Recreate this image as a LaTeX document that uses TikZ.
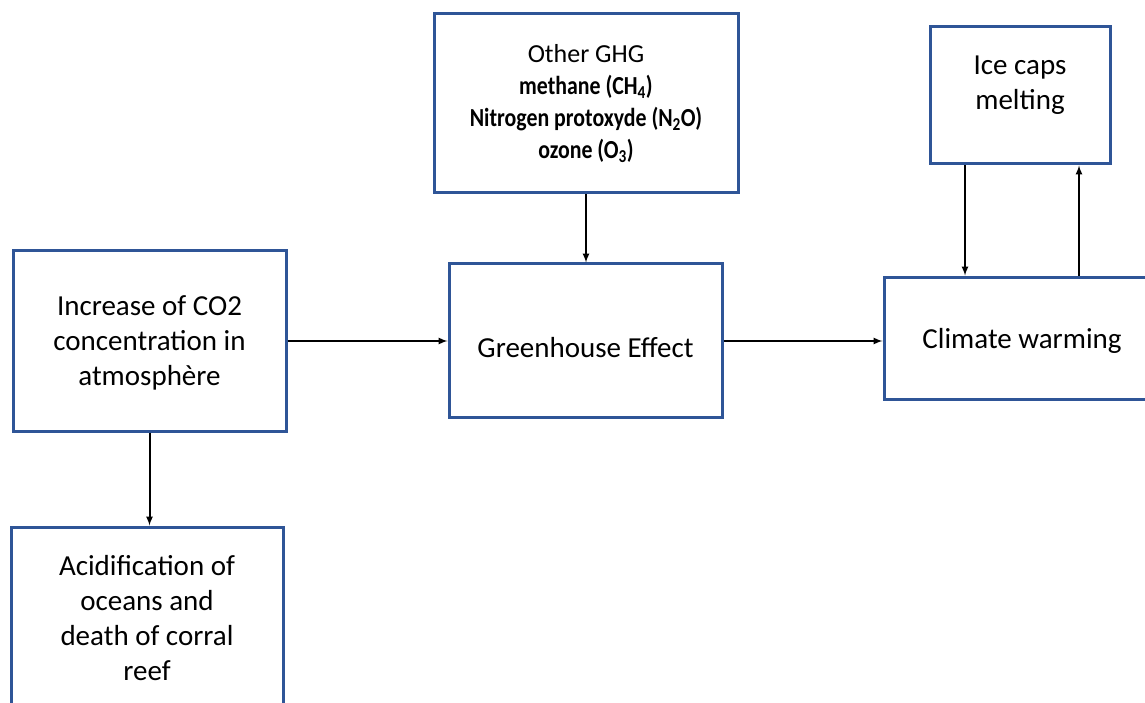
\documentclass[tikz,border=0pt]{standalone}
\usepackage{fontspec}
\setmainfont{Carlito}
\newfontfamily\gasfont[FakeStretch=0.84]{Carlito}
\usepackage{xcolor}
\usetikzlibrary{arrows}
\definecolor{boxcolor}{HTML}{2F5597}

% text lines of a box, moved up (or down) inside it
\newcommand\liftlines[2]{\raisebox{#1}[\height][\depth]{\begin{tabular}{@{}c@{}}#2\end{tabular}}}

\tikzset{
  box/.style={draw=boxcolor, line width=3pt, fill=white, align=center, inner sep=0pt,
    font=\fontsize{29}{35}\selectfont},
  gasbox/.style={box, font=\fontsize{26}{32}\selectfont},
  link/.style={black, line width=2pt, -latex}
}

\begin{document}
\begin{tikzpicture}[x=1pt,y=-1pt]
\useasboundingbox (0,0) rectangle (1145,703);
\clip (0,0) rectangle (1145,703);
% boxes
\node[gasbox, minimum width=304pt, minimum height=179pt] (ghg) at (586,103.5)
  {Other GHG\\
   {\gasfont\bfseries methane (CH\textsubscript{4})}\\
   {\gasfont\bfseries Nitrogen protoxyde (N\textsubscript{2}O)}\\
   {\gasfont\bfseries ozone (O\textsubscript{3})}};
\node[box, minimum width=180pt, minimum height=137pt] (ice) at (1020,95.5)
  {\liftlines{10pt}{Ice caps\\melting}};
\node[box, minimum width=273pt, minimum height=180pt] (co2) at (149.5,341)
  {\liftlines{-2pt}{Increase of CO2\\concentration in\\atmosphère}};
\node[box, minimum width=273pt, minimum height=153pt] (green) at (585.5,340.5)
  {\liftlines{-10pt}{Greenhouse Effect}};
\node[box, minimum width=276pt, minimum height=122pt] (clim) at (1022,338)
  {\liftlines{-3pt}{Climate warming}};
\node[box, minimum width=272pt, minimum height=190pt] (acid) at (147,622)
  {\liftlines{1pt}{Acidification of\\oceans and\\death of corral\\reef}};
% arrows
\draw[link] (co2.east) -- (green.west |- co2.east);
\draw[link] (green.east |- co2.east) -- (clim.west |- co2.east);
\draw[link] (ghg.south) -- (green.north -| ghg.south);
\draw[link] (co2.south) -- (acid.north -| co2.south);
\draw[link] ([xshift=-55pt]ice.south) -- ([xshift=-55pt]ice.south |- clim.north);
\draw[link] ([xshift=59pt]ice.south |- clim.north) -- ([xshift=59pt]ice.south);
\end{tikzpicture}
\end{document}
